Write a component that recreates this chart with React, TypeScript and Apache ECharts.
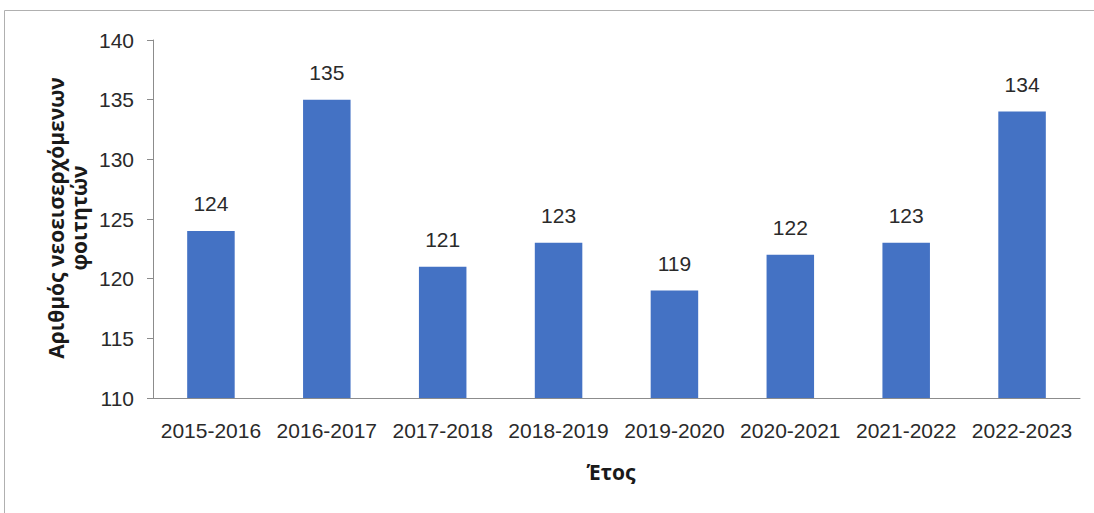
import React, { useEffect, useRef } from "react";
import * as echarts from "echarts";

const categories = ["2015-2016", "2016-2017", "2017-2018", "2018-2019", "2019-2020", "2020-2021", "2021-2022", "2022-2023"];
const values = [124, 135, 121, 123, 119, 122, 123, 134];
const yTitle = "Αριθμός νεοεισερχόμενων\nφοιτητών";
const xTitle = "Έτος";

export default function App() {
  const ref = useRef<HTMLDivElement>(null);
  useEffect(() => {
    const chart = echarts.init(ref.current!, null, { renderer: "svg" });
    const font = "'Liberation Sans', Arial, sans-serif";
    chart.setOption({
      animation: false,
      backgroundColor: "#ffffff",
      graphic: [
        {
          type: "rect",
          shape: { x: 4.5, y: 10.5, width: 1100, height: 520 },
          style: { fill: "none", stroke: "#b0b0b0", lineWidth: 1 },
          silent: true,
        },
        {
          type: "text",
          x: 67,
          y: 218,
          rotation: Math.PI / 2,
          style: {
            text: yTitle,
            font: "bold 21px 'Open Sans', sans-serif",
            fill: "#1a1a1a",
            align: "center",
            verticalAlign: "middle",
            lineHeight: 23,
          },
        },
        {
          type: "text",
          x: 611,
          y: 472,
          style: {
            text: xTitle,
            font: "bold 21px 'Open Sans', sans-serif",
            fill: "#1a1a1a",
            align: "center",
            verticalAlign: "middle",
          },
        },
      ],
      grid: { left: 153, right: 14, top: 40, bottom: 115, containLabel: false },
      xAxis: {
        type: "category",
        data: categories,
        axisLine: { lineStyle: { color: "#8c8c8c", width: 1 } },
        axisTick: { show: false },
        axisLabel: { interval: 0, fontFamily: font, fontSize: 21, color: "#2a2a2a", margin: 22 },
      },
      yAxis: {
        type: "value",
        min: 110,
        max: 140,
        interval: 5,
        splitLine: { show: false },
        axisLine: { show: true, lineStyle: { color: "#8c8c8c", width: 1 } },
        axisTick: { show: true, length: 6, lineStyle: { color: "#8c8c8c" } },
        axisLabel: { fontFamily: font, fontSize: 21, color: "#2a2a2a", margin: 19 },
      },
      series: [
        {
          type: "bar",
          data: values,
          barWidth: "41%",
          itemStyle: { color: "#4472c4" },
          label: {
            show: true,
            position: "top",
            distance: 17,
            fontFamily: font,
            fontSize: 21,
            color: "#2a2a2a",
          },
        },
      ],
    });
    return () => chart.dispose();
  }, []);
  return <div ref={ref} style={{ position: "fixed", left: 0, top: 0, width: 1094, height: 513 }} />;
}
